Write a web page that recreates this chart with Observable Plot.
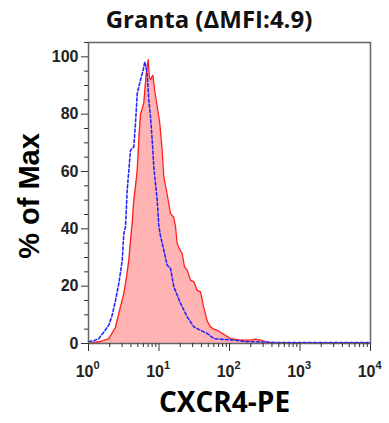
<!DOCTYPE html>
<html>
<head>
<meta charset="utf-8">
<script src="https://cdn.jsdelivr.net/npm/d3@7"></script>
<script src="https://cdn.jsdelivr.net/npm/@observablehq/plot@0.6"></script>
<style>
  html, body { margin: 0; padding: 0; background: #fff; }
  #title { width: 389px; height: 38px; line-height: 38px; box-sizing: border-box; padding-left: 29px;
           text-align: center; font-family: "Open Sans", sans-serif; font-weight: bold; font-size: 24px; color: #111; }
</style>
</head>
<body>
<div id="title">Granta (ΔMFI:4.9)</div>
<div id="chart"></div>
<script>
// Red (filled) histogram: CXCR4-PE intensity, % of Max
const redX = [1.0, 1.48, 1.94, 2.4, 2.69, 3.17, 3.45, 3.73, 4.03, 4.17, 4.39, 4.65, 4.91, 5.2, 5.46, 5.8, 6.09, 6.58, 7.03, 7.3, 7.57, 8.16, 8.72, 9.43, 10.26, 11.09, 11.69, 13.06, 14.56, 16.22, 17.14, 18.12, 19.5, 21.3, 23.0, 25.1, 28.0, 31.2, 34.8, 38.8, 43.2, 48.3, 53.7, 60, 66.9, 83.0, 103, 143, 199, 234, 275, 343, 529, 1000, 3000, 10000];
const redY = [0, 0.7, 1.7, 5.5, 10.5, 17.4, 23, 29, 38.4, 42, 50, 55, 60.5, 72, 80, 82, 84, 94, 99, 93, 92, 93.6, 88, 82.6, 76.8, 67.4, 58.1, 52, 45.4, 44, 40.7, 34.9, 33, 31.4, 26.7, 25.6, 22.1, 21.5, 18.6, 18, 12.5, 7.8, 5.8, 5.0, 4.6, 3.2, 1.7, 1.2, 1.2, 1.5, 1.2, 0.4, 0.2, 0.2, 0.2, 0.2];
// Blue (dashed) histogram
const blueX = [1.01, 1.2, 1.40, 1.65, 1.94, 2.17, 2.42, 2.69, 3.01, 3.17, 3.35, 3.54, 3.94, 4.39, 4.64, 4.91, 5.46, 5.97, 6.29, 6.80, 7.17, 7.57, 8.01, 8.44, 9.43, 9.94, 10.5, 11.69, 13.06, 14.56, 16.22, 20.2, 25.1, 31.2, 38.8, 48.3, 59.9, 74.5, 115, 178, 247, 529, 1000, 3000, 10000];
const blueY = [0.6, 1.0, 1.7, 4, 6.4, 9.9, 15.1, 20.9, 29, 38.4, 40.7, 53.5, 67.4, 68.6, 76.8, 87.2, 91.9, 95.4, 98.3, 94.2, 84.9, 79.1, 71, 61.6, 50, 41, 37.5, 32.6, 27.3, 26.2, 19.8, 14, 9.3, 5.8, 4.6, 3.5, 1.7, 1.5, 1.2, 0.6, 0.6, 0.3, 0.3, 0.3, 0.3];
// Axis ticks
const yMajor = [0, 20, 40, 60, 80, 100];
const yMinor = [5, 10, 15, 25, 30, 35, 45, 50, 55, 65, 70, 75, 85, 90, 95, 105];
const xMajor = [1, 10, 100, 1000, 10000];
const xExponents = ["0", "1", "2", "3", "4"];
const xMinor = [];
for (const d of [1, 10, 100, 1000]) for (let k = 2; k <= 9; k++) xMinor.push(d * k);

const red = redX.map((x, i) => ({x, y: redY[i]}));
const blue = blueX.map((x, i) => ({x, y: blueY[i]}));

const chart = Plot.plot({
  width: 389,
  height: 385,
  marginTop: 4,
  marginBottom: 80,
  marginLeft: 88,
  marginRight: 19,
  x: {type: "log", domain: [1, 10000]},
  y: {domain: [0, 105]},
  style: {fontFamily: "'Liberation Sans', Arial, sans-serif", fontWeight: "bold", color: "#333", background: "#fff"},
  marks: [
    Plot.areaY(red, {x: "x", y: "y", fill: "#ffb3b3"}),
    Plot.lineY(red, {x: "x", y: "y", stroke: "#ff1f1f", strokeWidth: 1.3}),
    Plot.lineY(blue, {x: "x", y: "y", stroke: "#2626ff", strokeWidth: 1.6, strokeDasharray: "3,2.2"}),
    Plot.frame({stroke: "#666", strokeWidth: 1.5}),
    Plot.axisY({ticks: yMajor, tickSize: 7, tickPadding: 3, fontSize: 16, fill: "#222", label: null}),
    Plot.axisY({ticks: yMinor, tickSize: 4, tickFormat: () => "", label: null}),
    Plot.axisX({ticks: xMajor, tickSize: 8, tickFormat: () => "", label: null}),
    Plot.axisX({ticks: xMinor, tickSize: 4, tickFormat: () => "", label: null}),
    Plot.text(xMajor, {x: d => d, text: () => "10", frameAnchor: "bottom", textAnchor: "end", lineAnchor: "bottom", dx: 5, dy: 33, fontSize: 16, fill: "#222"}),
    Plot.text(xMajor, {x: d => d, text: (d, i) => xExponents[i], frameAnchor: "bottom", textAnchor: "start", lineAnchor: "bottom", dx: 5, dy: 25, fontSize: 11, fill: "#222"}),
    Plot.text(["% of Max"], {frameAnchor: "left", rotate: -90, textAnchor: "middle", lineAnchor: "middle", dx: -59, dy: 3, fontSize: 29, fill: "#000"}),
    Plot.text(["CXCR4-PE"], {frameAnchor: "bottom", textAnchor: "middle", lineAnchor: "middle", dx: -5, dy: 60, fontSize: 28, fill: "#000", fontFamily: "'Open Sans', sans-serif"})
  ]
});
document.getElementById("chart").appendChild(chart);
</script>
</body>
</html>
